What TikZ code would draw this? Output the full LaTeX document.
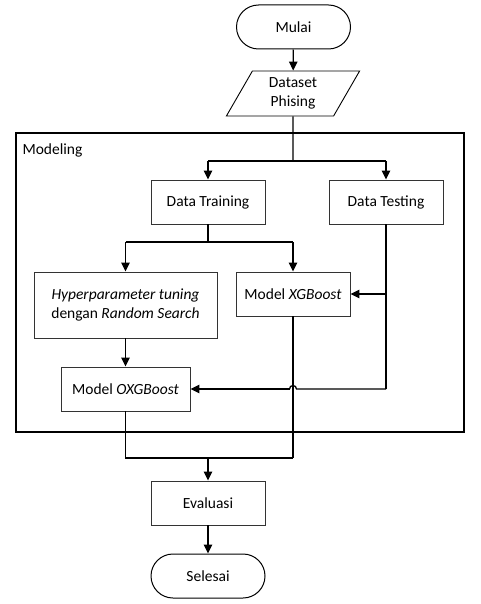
\documentclass[tikz,border=0pt]{standalone}
\usepackage{fontspec}
\setmainfont{Carlito}
\usetikzlibrary{shapes.misc,shapes.geometric,arrows.meta}
\begin{document}
\begin{tikzpicture}[x=1pt,y=-1pt,
  font=\fontsize{15.5}{19}\selectfont,
  conn/.style={line width=1.3pt},
  arr/.style={conn,-{Triangle[length=9pt,width=8.5pt]}},
  box/.style={draw=black!80,line width=0.9pt,rectangle,inner sep=0pt,align=center},
  term/.style={draw,line width=1pt,rounded rectangle,inner sep=0pt,minimum width=114pt,minimum height=44pt}]
\useasboundingbox (0,0) rectangle (480,604);
% group frame
\node[draw,line width=1.1pt,rectangle,inner sep=0pt,minimum width=448pt,minimum height=299pt] (frame) at (240,282.5) {};
\node[anchor=west] (lbl) at (19,150) {Modeling};
% nodes
\node[term] (mulai) at (293.5,27) {Mulai};
\node[draw,line width=0.9pt,trapezium,trapezium left angle=64,trapezium right angle=116,trapezium stretches=true,minimum width=134pt,minimum height=45pt,inner sep=0pt,align=center] (data) at (293,93.5) {Dataset\\Phising};
\node[box,minimum width=114pt,minimum height=44pt] (train) at (208,202) {Data Training};
\node[box,minimum width=114pt,minimum height=44pt] (test) at (386,202) {Data Testing};
\node[box,minimum width=183pt,minimum height=66pt] (hyper) at (125.5,305) {\textit{Hyperparameter tuning}\\dengan \textit{Random Search}};
\node[box,minimum width=114pt,minimum height=44pt] (xgb) at (293,294) {Model \textit{XGBoost}};
\node[box,minimum width=129pt,minimum height=44pt] (oxgb) at (125.5,389) {Model \textit{OXGBoost}};
\node[box,minimum width=114pt,minimum height=44pt] (eval) at (208,503) {Evaluasi};
\node[term] (selesai) at (208,576) {Selesai};
% coordinates
\coordinate (b1) at (293,161);
\coordinate (b1l) at (208,161);
\coordinate (b1r) at (386,161);
\coordinate (b2) at (208,242);
\coordinate (b2l) at (125.5,242);
\coordinate (b2r) at (293,242);
\coordinate (t1) at (386,294);
\coordinate (t2) at (386,389);
\coordinate (hopR) at (296.5,389);
\coordinate (hopL) at (289.5,389);
\coordinate (m1) at (125.5,458);
\coordinate (m2) at (293,458);
\coordinate (m3) at (208,458);
% connectors
\draw[arr] (mulai) -- (data);
\draw[conn] (data.south) -- (b1);
\draw[conn] (b1l) -- (b1r);
\draw[arr] (b1l) -- (train);
\draw[arr] (b1r) -- (test);
\draw[conn] (train) -- (b2);
\draw[conn] (b2l) -- (b2r);
\draw[arr] (b2l) -- (hyper);
\draw[arr] (b2r) -- (xgb);
\draw[conn] (test) -- (t2);
\draw[arr] (t1) -- (xgb);
\draw[conn] (t2) -- (hopR) arc[start angle=0,end angle=180,radius=3.5pt];
\draw[arr] (hopL) -- (oxgb);
\draw[arr] (hyper) -- (oxgb);
\draw[conn] (oxgb) -- (m1) -- (m2);
\draw[conn] (xgb) -- (m2);
\draw[arr] (m3) -- (eval);
\draw[arr] (eval) -- (selesai);
\end{tikzpicture}
\end{document}
